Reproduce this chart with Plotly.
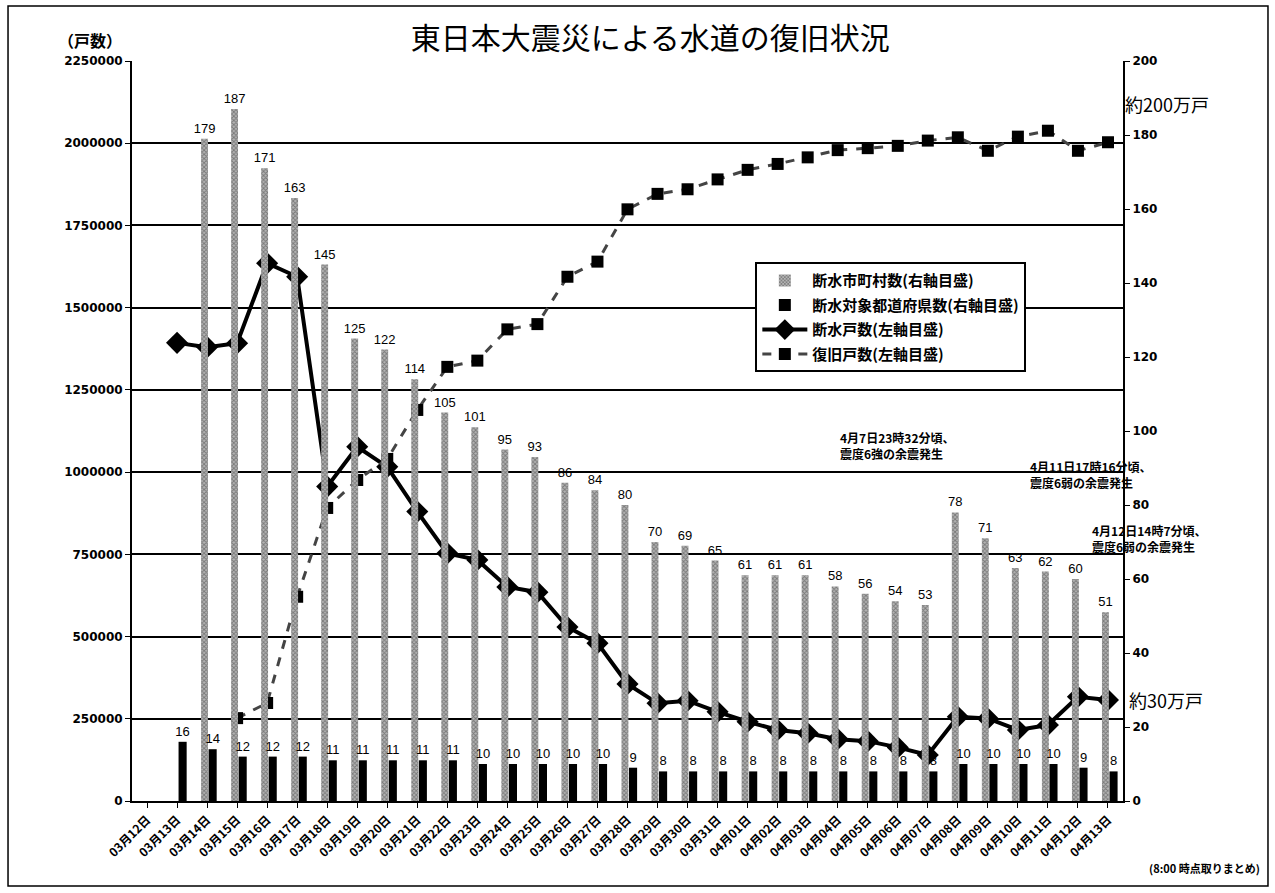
import plotly.graph_objects as go

dates = ["03月12日", "03月13日", "03月14日", "03月15日", "03月16日", "03月17日", "03月18日",
         "03月19日", "03月20日", "03月21日", "03月22日", "03月23日", "03月24日", "03月25日",
         "03月26日", "03月27日", "03月28日", "03月29日", "03月30日", "03月31日", "04月01日",
         "04月02日", "04月03日", "04月04日", "04月05日", "04月06日", "04月07日", "04月08日",
         "04月09日", "04月10日", "04月11日", "04月12日", "04月13日"]

# 断水市町村数 (right axis)
municipalities = [None, None, 179, 187, 171, 163, 145, 125, 122, 114, 105, 101, 95, 93, 86, 84,
                  80, 70, 69, 65, 61, 61, 61, 58, 56, 54, 53, 78, 71, 63, 62, 60, 51]

# 断水対象都道府県数 (right axis)
prefectures = [None, 16, 14, 12, 12, 12, 11, 11, 11, 11, 11, 10, 10, 10, 10, 10, 9,
               8, 8, 8, 8, 8, 8, 8, 8, 8, 8, 10, 10, 10, 10, 9, 8]

# 断水戸数 (left axis)
outage = [None, 1393000, 1380000, 1392000, 1635000, 1594000, 956000, 1077000, 1016000, 880000,
          753000, 733000, 651000, 635000, 529000, 480000, 356000, 297000, 305000, 271000,
          241000, 216000, 206000, 188000, 182000, 163000, 140000, 256000, 251000, 216000,
          231000, 317000, 307000]

# 復旧戸数 (left axis)
recovered = [None, None, None, 252000, 298000, 621000, 891000, 976000, 1040000, 1189000,
             1320000, 1339000, 1434000, 1450000, 1594000, 1640000, 1799000, 1846000, 1860000,
             1890000, 1919000, 1937000, 1957000, 1979000, 1985000, 1992000, 2008000, 2018000,
             1977000, 2020000, 2038000, 1977000, 2003000]

JP = "Noto Sans CJK JP"
NUM = "Liberation Sans"

fig = go.Figure()

fig.add_trace(go.Bar(
    x=dates, y=municipalities, yaxis="y2", name="断水市町村数(右軸目盛)", legendgroup="a",
    width=0.23, offset=-0.2,
    marker=dict(color="#8c8c8c", line=dict(width=0),
                pattern=dict(shape="x", fgcolor="#3c3c3c", bgcolor="#b4b4b4", size=3, solidity=0.5)),
    text=["" if v is None else str(v) for v in municipalities],
    textposition="outside", textangle=0, constraintext="none", cliponaxis=False,
    textfont=dict(family=NUM, size=13, color="black"),
))

fig.add_trace(go.Bar(
    x=dates, y=prefectures, yaxis="y2", name="断水対象都道府県数(右軸目盛)", legendgroup="b",
    width=0.27, offset=0.05,
    marker=dict(color="black", line=dict(width=0)),
    text=["" if v is None else str(v) for v in prefectures],
    textposition="outside", textangle=0, constraintext="none", cliponaxis=False,
    textfont=dict(family=NUM, size=13, color="black"),
))

fig.add_trace(go.Scatter(
    x=dates, y=outage, name="断水戸数(左軸目盛)", mode="lines+markers", legendgroup="c",
    line=dict(color="black", width=4),
    marker=dict(symbol="diamond", size=17, color="black"),
    cliponaxis=False,
))

fig.add_trace(go.Scatter(
    x=dates, y=recovered, name="復旧戸数(左軸目盛)", mode="lines+markers", legendgroup="d",
    line=dict(color="#444444", width=3, dash="dash"),
    marker=dict(symbol="square", size=12, color="black"),
    cliponaxis=False,
))

fig.update_layout(
    width=1275, height=893,
    margin=dict(l=132, r=152, t=61, b=92),
    paper_bgcolor="white", plot_bgcolor="white",
    barmode="overlay",
    showlegend=True,
    font=dict(family=JP, color="black"),
    title=dict(text="東日本大震災による水道の復旧状況", x=0.51, xanchor="center",
               y=1 - 38 / 893, yanchor="middle", font=dict(family=JP, size=30, color="black")),
    xaxis=dict(
        type="category", categoryorder="array", categoryarray=dates,
        range=[-0.5, len(dates) - 0.5],
        tickangle=-45, ticks="outside", ticklen=5, tickcolor="black",
        showline=True, linecolor="black", linewidth=2, showgrid=False,
        tickfont=dict(family=JP, size=12, color="black", weight="bold"),
    ),
    yaxis=dict(
        range=[0, 2250000], dtick=250000, tickformat="d",
        ticks="outside", ticklen=5, tickcolor="black",
        showline=True, linecolor="black", linewidth=2,
        showgrid=True, gridcolor="black", gridwidth=2, zeroline=False,
        tickfont=dict(family="DejaVu Sans", size=12, color="black", weight="bold"),
    ),
    yaxis2=dict(
        range=[0, 200], dtick=20, overlaying="y", side="right",
        ticks="outside", ticklen=5, tickcolor="black",
        showline=True, linecolor="black", linewidth=2, showgrid=False, zeroline=False,
        tickfont=dict(family="DejaVu Sans", size=12, color="black", weight="bold"),
    ),
    legend=dict(
        x=0.629, y=0.728, xanchor="left", yanchor="top",
        bgcolor="white", bordercolor="black", borderwidth=2,
        font=dict(family=JP, size=15, color="black", weight="bold"),
        traceorder="grouped", tracegroupgap=2, itemwidth=45,
    ),
)

# outer frame
fig.add_shape(type="rect", xref="paper", yref="paper",
              x0=-0.1251, x1=1.1463, y0=-0.1149, y1=1.0743,
              line=dict(color="black", width=1.5), layer="below")

ann = [
    dict(text="（戸数）", x=-0.042, y=1 + 21 / 740, xanchor="center", yanchor="middle",
         font=dict(family=JP, size=16, weight="bold")),
    dict(text="(8:00 時点取りまとめ)", x=1.14, y=-(868 - 801) / 740, xanchor="right", yanchor="middle",
         font=dict(family=JP, size=11, weight="bold")),
    dict(text="約200万戸", x=1.0, xshift=0, y=(801 - 104) / 740, xanchor="left", yanchor="middle",
         font=dict(family=JP, size=18)),
    dict(text="約30万戸", x=1.0, xshift=4, y=(801 - 700) / 740, xanchor="left", yanchor="middle",
         font=dict(family=JP, size=18)),
    dict(text="4月7日23時32分頃、<br>震度6強の余震発生", x=(838 - 132) / 991, y=(801 - 445) / 740,
         xanchor="left", yanchor="middle", align="left",
         font=dict(family=JP, size=12, weight="bold")),
    dict(text="4月11日17時16分頃、<br>震度6弱の余震発生", x=(1028 - 132) / 991, y=(801 - 474) / 740,
         xanchor="left", yanchor="middle", align="left",
         font=dict(family=JP, size=12, weight="bold")),
    dict(text="4月12日14時7分頃、<br>震度6弱の余震発生", x=(1090 - 132) / 991, y=(801 - 538) / 740,
         xanchor="left", yanchor="middle", align="left",
         font=dict(family=JP, size=12, weight="bold")),
]
for a in ann:
    fig.add_annotation(xref="paper", yref="paper", showarrow=False, **a)

fig.write_html("out.html")
